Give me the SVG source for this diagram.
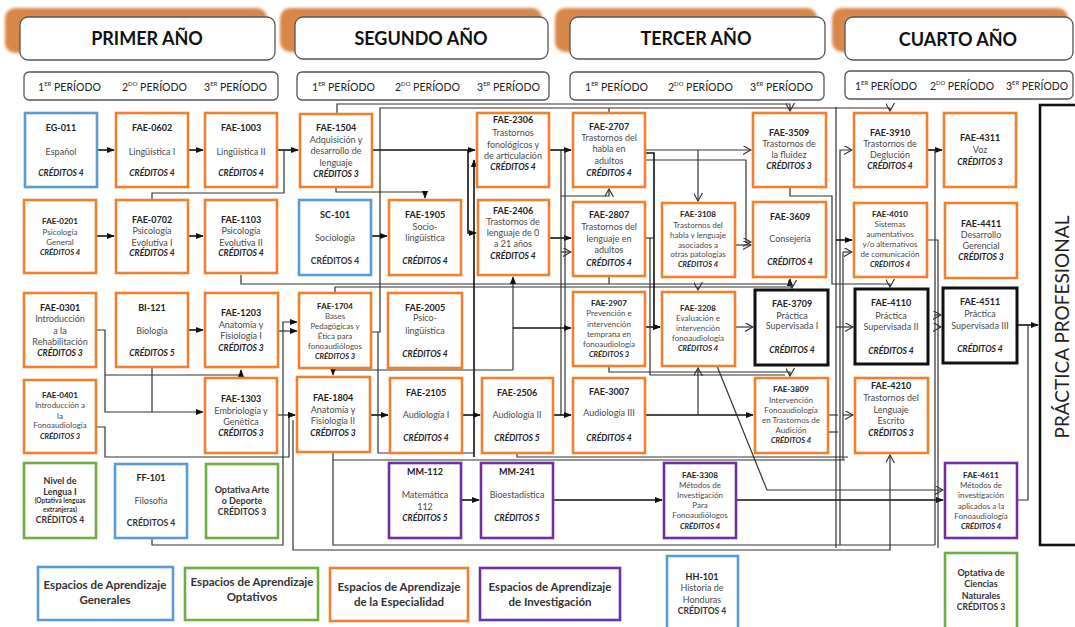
<svg xmlns="http://www.w3.org/2000/svg" width="1075" height="627" viewBox="0 0 1075 627">
<style>
text{font-family:Lato,"Open Sans","Liberation Sans",sans-serif;text-anchor:middle}
.c{font-size:9px;font-weight:bold;fill:#222}
.cs{font-size:8px;font-weight:bold;fill:#222}
.t{font-size:9px;fill:#4a4a4a}
.ts{font-size:8px;fill:#4a4a4a}
.k{font-size:8.5px;font-weight:bold;font-style:italic;fill:#222}
.ks{font-size:7.5px;font-weight:bold;font-style:italic;fill:#222}
.kb{font-size:8.5px;font-weight:bold;fill:#333}
.tb{font-size:9px;font-weight:bold;fill:#333}
.tiny{font-size:6.5px;font-weight:bold;fill:#333}
.o{fill:#fff;stroke:#F07F2E;stroke-width:2.6}
.b{fill:#fff;stroke:#5B9BD5;stroke-width:2.6}
.g{fill:#fff;stroke:#70AD47;stroke-width:2.6}
.p{fill:#fff;stroke:#7030A0;stroke-width:2.6}
.x{fill:#fff;stroke:#111;stroke-width:3}
.hd{fill:#fff;stroke:#555;stroke-width:1.3}
.sh{fill:#D9874A;filter:url(#bl)}
.ht{font-size:18px;font-weight:bold;fill:#111}
.pt{font-size:11.5px;fill:#222;text-anchor:start}
.sup{font-size:6.5px}
.lg{font-size:11.5px;font-weight:bold;fill:#333}
#conn path{fill:none;stroke:#333;stroke-width:1.2}
#conn .s{stroke:#111;stroke-width:1.6}
</style>
<defs>
<filter id="bl" x="-5%" y="-20%" width="110%" height="140%"><feGaussianBlur stdDeviation="1.5"/></filter>
<marker id="af" viewBox="0 0 10 10" refX="9" refY="5" markerWidth="8" markerHeight="8" markerUnits="userSpaceOnUse" orient="auto"><path d="M0,1 L10,5 L0,9 z" fill="#111"/></marker>
<marker id="ao" viewBox="0 0 10 10" refX="9" refY="5" markerWidth="9" markerHeight="9" markerUnits="userSpaceOnUse" orient="auto"><path d="M0,0 L9,5 L0,10" fill="none" stroke="#333" stroke-width="1.3"/></marker>
</defs>
<rect width="1075" height="627" fill="#fff"/>

<!-- Year headers -->
<g id="yr1"><rect class="sh" x="5" y="8" width="262" height="45" rx="10"/><rect class="hd" x="20" y="17" width="255" height="43" rx="8"/><text class="ht" x="147" y="45">PRIMER AÑO</text></g>
<g id="yr2"><rect class="sh" x="280" y="8" width="262" height="44" rx="10"/><rect class="hd" x="295" y="17" width="253" height="42" rx="8"/><text class="ht" x="421" y="45">SEGUNDO AÑO</text></g>
<g id="yr3"><rect class="sh" x="555" y="8" width="262" height="44" rx="10"/><rect class="hd" x="570" y="17" width="255" height="42" rx="8"/><text class="ht" x="696" y="45">TERCER AÑO</text></g>
<g id="yr4"><rect class="sh" x="832" y="8" width="236" height="44" rx="10"/><rect class="hd" x="845" y="17" width="228" height="43" rx="8"/><text class="ht" x="958" y="46">CUARTO AÑO</text></g>

<!-- Period bars -->
<g id="per1"><rect class="hd" x="24" y="72" width="254" height="28" rx="5"/>
<text class="pt" x="38" y="91" textLength="63" lengthAdjust="spacingAndGlyphs">1<tspan class="sup" dy="-5">ER</tspan><tspan dy="5"> PERÍODO</tspan></text>
<text class="pt" x="122" y="91" textLength="65" lengthAdjust="spacingAndGlyphs">2<tspan class="sup" dy="-5">DO</tspan><tspan dy="5"> PERÍODO</tspan></text>
<text class="pt" x="204" y="91" textLength="63" lengthAdjust="spacingAndGlyphs">3<tspan class="sup" dy="-5">ER</tspan><tspan dy="5"> PERÍODO</tspan></text></g>
<g id="per2"><rect class="hd" x="297" y="72" width="252" height="28" rx="5"/>
<text class="pt" x="312" y="91" textLength="63" lengthAdjust="spacingAndGlyphs">1<tspan class="sup" dy="-5">ER</tspan><tspan dy="5"> PERÍODO</tspan></text>
<text class="pt" x="395" y="91" textLength="65" lengthAdjust="spacingAndGlyphs">2<tspan class="sup" dy="-5">DO</tspan><tspan dy="5"> PERÍODO</tspan></text>
<text class="pt" x="477" y="91" textLength="63" lengthAdjust="spacingAndGlyphs">3<tspan class="sup" dy="-5">ER</tspan><tspan dy="5"> PERÍODO</tspan></text></g>
<g id="per3"><rect class="hd" x="570" y="72" width="254" height="28" rx="5"/>
<text class="pt" x="585" y="91" textLength="63" lengthAdjust="spacingAndGlyphs">1<tspan class="sup" dy="-5">ER</tspan><tspan dy="5"> PERÍODO</tspan></text>
<text class="pt" x="668" y="91" textLength="65" lengthAdjust="spacingAndGlyphs">2<tspan class="sup" dy="-5">DO</tspan><tspan dy="5"> PERÍODO</tspan></text>
<text class="pt" x="750" y="91" textLength="63" lengthAdjust="spacingAndGlyphs">3<tspan class="sup" dy="-5">ER</tspan><tspan dy="5"> PERÍODO</tspan></text></g>
<g id="per4"><rect class="hd" x="845" y="71" width="228" height="28" rx="5"/>
<text class="pt" x="855" y="90" textLength="62" lengthAdjust="spacingAndGlyphs">1<tspan class="sup" dy="-5">ER</tspan><tspan dy="5"> PERÍODO</tspan></text>
<text class="pt" x="930" y="90" textLength="64" lengthAdjust="spacingAndGlyphs">2<tspan class="sup" dy="-5">DO</tspan><tspan dy="5"> PERÍODO</tspan></text>
<text class="pt" x="1006" y="90" textLength="62" lengthAdjust="spacingAndGlyphs">3<tspan class="sup" dy="-5">ER</tspan><tspan dy="5"> PERÍODO</tspan></text></g>

<!-- Connectors -->
<g id="conn">
<path class="s" d="M97,150 H114" marker-end="url(#af)"/>
<path class="s" d="M188,150 H203" marker-end="url(#af)"/>
<path class="s" d="M277,150 H298" marker-end="url(#af)"/>
<path d="M152,200 V193 H284 V150"/>
<path class="s" d="M96,236 H114" marker-end="url(#af)"/>
<path class="s" d="M188,236 H203" marker-end="url(#af)"/>
<path class="s" d="M188,330 H203" marker-end="url(#af)"/>
<path d="M241,275 V284 H790 V279" marker-end="url(#af)"/>
<path d="M335,293 V287 H792 V288" marker-end="url(#ao)"/>
<path d="M152,538 V545 H283 V322 H297" marker-end="url(#af)"/>
<path d="M278,331 H297" marker-end="url(#af)"/>
<path d="M96,330 H105 V412 H203" marker-end="url(#af)"/>
<path d="M105,375 H241 V370" marker-end="url(#af)"/>
<path d="M152,368 V412"/>
<path d="M96,427 H105 V457 H289 V415 H295" marker-end="url(#af)"/>
<path d="M277,415 H295" marker-end="url(#af)"/>
<path class="s" d="M372,150 H475" marker-end="url(#af)"/>
<path class="s" d="M468,150 V233 H476" marker-end="url(#af)"/>
<path d="M337,114 V104 H790 V111" marker-end="url(#ao)"/>
<path d="M371,332 H380 V108 H890 V111" marker-end="url(#ao)"/>
<path d="M609,113 V108"/>
<path d="M336,187 V192 H425 V198" marker-end="url(#af)"/>
<path class="s" d="M371,236 H387" marker-end="url(#af)"/>
<path class="s" d="M474,457 V160" marker-end="url(#af)"/>
<path class="s" d="M549,150 H571" marker-end="url(#af)"/>
<path class="s" d="M549,238 H571" marker-end="url(#af)"/>
<path d="M561,150 V415"/>
<path d="M565,150 V413"/>
<path d="M561,252 H571" marker-end="url(#ao)"/>
<path d="M561,196 H609 V189" marker-end="url(#ao)"/>
<path d="M513,370 V277" marker-end="url(#af)"/>
<path class="s" d="M513,328 H571" marker-end="url(#af)"/>
<path d="M513,370 H333 V375" marker-end="url(#af)"/>
<path class="s" d="M552,415 H571" marker-end="url(#af)"/>
<path class="s" d="M369,415 H388" marker-end="url(#af)"/>
<path class="s" d="M462,415 H480" marker-end="url(#af)"/>
<path d="M645,150 H751" marker-end="url(#ao)"/>
<path d="M698,150 V201" marker-end="url(#ao)"/>
<path d="M645,160 H746 V242 H751" marker-end="url(#ao)"/>
<path class="s" d="M645,153 H654 V327 H660" marker-end="url(#af)"/>
<path d="M645,238 H654"/>
<path class="s" d="M645,327 H660" marker-end="url(#af)"/>
<path d="M735,245 H751" marker-end="url(#ao)"/>
<path d="M735,327 H753" marker-end="url(#ao)"/>
<path d="M698,287 V290" marker-end="url(#ao)"/>
<path d="M609,276 V284"/>
<path d="M609,366 V372 H790 V376" marker-end="url(#ao)"/>
<path d="M650,238 V375 H785"/>
<path class="s" d="M645,415 H753" marker-end="url(#af)"/>
<path d="M698,415 V368" marker-end="url(#ao)"/>
<path d="M717,366 L767,490 H943" marker-end="url(#ao)"/>
<path class="s" d="M736,500 H943" marker-end="url(#af)"/>
<path class="s" d="M552,500 H662" marker-end="url(#af)"/>
<path class="s" d="M461,500 H479" marker-end="url(#af)"/>
<path class="s" d="M927,150 H942" marker-end="url(#af)"/>
<path d="M790,187 V196 H832 V284 H890 V287" marker-end="url(#ao)"/>
<path d="M840,545 V150 H852" marker-end="url(#ao)"/>
<path d="M836,107 V548"/>
<path class="s" d="M836,240 H852" marker-end="url(#af)"/>
<path d="M843,252 H852" marker-end="url(#ao)"/>
<path d="M843,252 V460"/>
<path d="M836,327 H853" marker-end="url(#ao)"/>
<path d="M828,415 H838"/>
<path d="M828,432 H838"/>
<path d="M843,415 H853" marker-end="url(#ao)"/>
<path d="M927,150 H935 V545"/>
<path d="M927,240 H938 V548"/>
<path d="M333,452 V545 H935"/>
<path d="M935,315 H941" marker-end="url(#ao)"/>
<path d="M938,327 H941" marker-end="url(#ao)"/>
<path d="M293,420 V550 H890 V455" marker-end="url(#ao)"/>
<path d="M378,332 V453 H474"/>
<path d="M517,453 V457 H848"/>
<path d="M333,460 H845"/>
<path class="s" d="M1017,325 H1038" marker-end="url(#af)"/>
<path d="M1017,500 H1028 V325"/>
</g>

<!-- Nodes -->
<g id="EG-011"><rect class="b" x="25" y="113" width="72" height="74"/><text class="c" x="61" y="131">EG-011</text><text class="t" x="61" y="155">Español</text><text class="k" x="61" y="176">CRÉDITOS 4</text></g>
<g id="FAE-0602"><rect class="o" x="116" y="113" width="72" height="74"/><text class="c" x="152" y="131">FAE-0602</text><text class="t" x="152" y="155">Lingüística I</text><text class="k" x="152" y="176">CRÉDITOS 4</text></g>
<g id="FAE-1003"><rect class="o" x="205" y="113" width="72" height="74"/><text class="c" x="241" y="131">FAE-1003</text><text class="t" x="241" y="155">Lingüística II</text><text class="k" x="241" y="176">CRÉDITOS 4</text></g>
<g id="FAE-1504"><rect class="o" x="300" y="114" width="72" height="73"/><text class="c" x="336" y="131">FAE-1504</text><text class="t" x="336" y="142.5">Adquisición y</text><text class="t" x="336" y="154">desarrollo de</text><text class="t" x="336" y="165.5">lenguaje</text><text class="k" x="336" y="177">CRÉDITOS 3</text></g>
<g id="FAE-2306"><rect class="o" x="477" y="113" width="72" height="74"/><text class="c" x="513" y="123">FAE-2306</text><text class="t" x="513" y="136">Trastornos</text><text class="t" x="513" y="148">fonológicos y</text><text class="t" x="513" y="159">de articulación</text><text class="k" x="513" y="170">CRÉDITOS 4</text></g>
<g id="FAE-2707"><rect class="o" x="573" y="113" width="72" height="74"/><text class="c" x="609" y="130">FAE-2707</text><text class="t" x="609" y="141">Trastornos del</text><text class="t" x="609" y="152">habla en</text><text class="t" x="609" y="164">adultos</text><text class="k" x="609" y="176">CRÉDITOS 4</text></g>
<g id="FAE-3509"><rect class="o" x="753" y="113" width="73" height="74"/><text class="c" x="789" y="136">FAE-3509</text><text class="t" x="789" y="147">Trastornos de</text><text class="t" x="789" y="158">la fluidez</text><text class="k" x="789" y="169">CRÉDITOS 3</text></g>
<g id="FAE-3910"><rect class="o" x="854" y="113" width="73" height="74"/><text class="c" x="890" y="136">FAE-3910</text><text class="t" x="890" y="147">Trastornos de</text><text class="t" x="890" y="158">Deglución</text><text class="k" x="890" y="169">CRÉDITOS 4</text></g>
<g id="FAE-4311"><rect class="o" x="944" y="113" width="72" height="74"/><text class="c" x="980" y="141">FAE-4311</text><text class="t" x="980" y="153">Voz</text><text class="k" x="980" y="165">CRÉDITOS 3</text></g>

<g id="FAE-0201"><rect class="o" x="24" y="200" width="72" height="73"/><text class="cs" x="60" y="224">FAE-0201</text><text class="ts" x="60" y="234.5">Psicología</text><text class="ts" x="60" y="244.5">General</text><text class="ks" x="60" y="254.5">CRÉDITOS 4</text></g>
<g id="FAE-0702"><rect class="o" x="116" y="200" width="72" height="73"/><text class="c" x="152" y="223">FAE-0702</text><text class="t" x="152" y="234">Psicología</text><text class="t" x="152" y="245.5">Evolutiva I</text><text class="k" x="152" y="256">CRÉDITOS 4</text></g>
<g id="FAE-1103"><rect class="o" x="205" y="200" width="72" height="73"/><text class="c" x="241" y="223">FAE-1103</text><text class="t" x="241" y="234">Psicología</text><text class="t" x="241" y="245.5">Evolutiva II</text><text class="k" x="241" y="256">CRÉDITOS 4</text></g>
<g id="SC-101"><rect class="b" x="299" y="200" width="72" height="75"/><text class="c" x="335" y="218">SC-101</text><text class="t" x="335" y="241">Sociología</text><text class="kb" x="335" y="264">CRÉDITOS 4</text></g>
<g id="FAE-1905"><rect class="o" x="389" y="200" width="72" height="75"/><text class="c" x="425" y="218">FAE-1905</text><text class="t" x="425" y="230">Socio-</text><text class="t" x="425" y="241">lingüística</text><text class="k" x="425" y="264">CRÉDITOS 4</text></g>
<g id="FAE-2406"><rect class="o" x="478" y="200" width="71" height="75"/><text class="c" x="513" y="213.5">FAE-2406</text><text class="t" x="513" y="224.5">Trastornos de</text><text class="t" x="513" y="236">lenguaje de 0</text><text class="t" x="513" y="247">a 21 años</text><text class="k" x="513" y="258.5">CRÉDITOS 4</text></g>
<g id="FAE-2807"><rect class="o" x="573" y="202" width="72" height="74"/><text class="c" x="609" y="218">FAE-2807</text><text class="t" x="609" y="230">Trastornos del</text><text class="t" x="609" y="242">lenguaje en</text><text class="t" x="609" y="253">adultos</text><text class="k" x="609" y="265.5">CRÉDITOS 4</text></g>
<g id="FAE-3108"><rect class="o" x="662" y="203" width="73" height="74"/><text class="cs" x="698" y="217">FAE-3108</text><text class="ts" x="698" y="227.5">Trastornos del</text><text class="ts" x="698" y="237.5">habla y  lenguaje</text><text class="ts" x="698" y="247.5">asociados a</text><text class="ts" x="698" y="257">otras patologías</text><text class="ks" x="698" y="267">CRÉDITOS 4</text></g>
<g id="FAE-3609"><rect class="o" x="753" y="202" width="73" height="75"/><text class="c" x="790" y="219.5">FAE-3609</text><text class="t" x="790" y="242">Consejería</text><text class="k" x="790" y="264.5">CRÉDITOS 4</text></g>
<g id="FAE-4010"><rect class="o" x="854" y="203" width="73" height="74"/><text class="cs" x="890" y="216.5">FAE-4010</text><text class="ts" x="890" y="226.5">Sistemas</text><text class="ts" x="890" y="236.5">aumentativos</text><text class="ts" x="890" y="246.5">y/o alternativos</text><text class="ts" x="890" y="256.5">de comunicación</text><text class="ks" x="890" y="267">CRÉDITOS 4</text></g>
<g id="FAE-4411"><rect class="o" x="945" y="203" width="72" height="75"/><text class="c" x="981" y="226.5">FAE-4411</text><text class="t" x="981" y="237.5">Desarrollo</text><text class="t" x="981" y="249">Gerencial</text><text class="k" x="981" y="260">CRÉDITOS 3</text></g>

<g id="FAE-0301"><rect class="o" x="24" y="293" width="72" height="74"/><text class="c" x="60" y="311">FAE-0301</text><text class="t" x="60" y="322">Introducción</text><text class="t" x="60" y="334">a la</text><text class="t" x="60" y="345">Rehabilitación</text><text class="k" x="60" y="356">CRÉDITOS 3</text></g>
<g id="BI-121"><rect class="o" x="116" y="293" width="72" height="74"/><text class="c" x="152" y="311">BI-121</text><text class="t" x="152" y="334">Biología</text><text class="k" x="152" y="356">CRÉDITOS 5</text></g>
<g id="FAE-1203"><rect class="o" x="205" y="293" width="73" height="74"/><text class="c" x="241" y="316">FAE-1203</text><text class="t" x="241" y="328">Anatomía y</text><text class="t" x="241" y="339">Fisiología I</text><text class="k" x="241" y="350.5">CRÉDITOS 3</text></g>
<g id="FAE-1704"><rect class="o" x="299" y="293" width="72" height="75"/><text class="cs" x="335" y="308.5">FAE-1704</text><text class="ts" x="335" y="318.5">Bases</text><text class="ts" x="335" y="329">Pedagógicas y</text><text class="ts" x="335" y="338.5">Ética para</text><text class="ts" x="335" y="348.5">fonoaudiólogos</text><text class="ks" x="335" y="358.5">CRÉDITOS 3</text></g>
<g id="FAE-2005"><rect class="o" x="388" y="293" width="74" height="75"/><text class="c" x="425" y="311">FAE-2005</text><text class="t" x="425" y="321">Psico-</text><text class="t" x="425" y="334">lingüística</text><text class="k" x="425" y="357">CRÉDITOS 4</text></g>
<g id="FAE-2907"><rect class="o" x="573" y="292" width="72" height="74"/><text class="cs" x="609" y="305.5">FAE-2907</text><text class="ts" x="609" y="315.5">Prevención e</text><text class="ts" x="609" y="326.5">intervención</text><text class="ts" x="609" y="336.5">temprana en</text><text class="ts" x="609" y="346.5">fonoaudiología</text><text class="ks" x="609" y="356.5">CRÉDITOS 3</text></g>
<g id="FAE-3208"><rect class="o" x="662" y="292" width="73" height="74"/><text class="cs" x="698" y="310.5">FAE-3208</text><text class="ts" x="698" y="320.5">Evaluación e</text><text class="ts" x="698" y="330.5">intervención</text><text class="ts" x="698" y="340.5">fonoaudiología</text><text class="ks" x="698" y="351">CRÉDITOS 4</text></g>
<g id="FAE-3709"><rect class="x" x="755" y="290" width="73" height="75"/><text class="c" x="792" y="307">FAE-3709</text><text class="t" x="792" y="318.5">Práctica</text><text class="t" x="792" y="329">Supervisada I</text><text class="k" x="792" y="352.5">CRÉDITOS 4</text></g>
<g id="FAE-4110"><rect class="x" x="855" y="289" width="73" height="75"/><text class="c" x="891" y="306">FAE-4110</text><text class="t" x="891" y="318.5">Práctica</text><text class="t" x="891" y="329.5">Supervisada II</text><text class="k" x="891" y="353.5">CRÉDITOS 4</text></g>
<g id="FAE-4511"><rect class="x" x="943" y="288" width="74" height="75"/><text class="c" x="980" y="305">FAE-4511</text><text class="t" x="980" y="317">Práctica</text><text class="t" x="980" y="328.5">Supervisada III</text><text class="k" x="980" y="351.5">CRÉDITOS 4</text></g>

<g id="FAE-0401"><rect class="o" x="24" y="380" width="72" height="73"/><text class="cs" x="60" y="397.5">FAE-0401</text><text class="ts" x="60" y="407.5">Introducción  a</text><text class="ts" x="60" y="418.5">la</text><text class="ts" x="60" y="427.5">Fonoaudiología</text><text class="ks" x="60" y="438.5">CRÉDITOS 3</text></g>
<g id="FAE-1303"><rect class="o" x="205" y="378" width="72" height="75"/><text class="c" x="241" y="402">FAE-1303</text><text class="t" x="241" y="413.5">Embriología y</text><text class="t" x="241" y="425">Genética</text><text class="k" x="241" y="436">CRÉDITOS 3</text></g>
<g id="FAE-1804"><rect class="o" x="297" y="377" width="73" height="75"/><text class="c" x="333" y="401">FAE-1804</text><text class="t" x="333" y="413">Anatomía y</text><text class="t" x="333" y="424">Fisiología  II</text><text class="k" x="333" y="435.5">CRÉDITOS 3</text></g>
<g id="FAE-2105"><rect class="o" x="390" y="378" width="72" height="75"/><text class="c" x="426" y="395.5">FAE-2105</text><text class="t" x="426" y="418">Audiología I</text><text class="k" x="426" y="440.5">CRÉDITOS 4</text></g>
<g id="FAE-2506"><rect class="o" x="482" y="378" width="71" height="75"/><text class="c" x="517" y="395.5">FAE-2506</text><text class="t" x="517" y="418">Audiología II</text><text class="k" x="517" y="440.5">CRÉDITOS 5</text></g>
<g id="FAE-3007"><rect class="o" x="573" y="378" width="72" height="75"/><text class="c" x="609" y="394.5">FAE-3007</text><text class="t" x="609" y="416">Audiología III</text><text class="k" x="609" y="440.5">CRÉDITOS 4</text></g>
<g id="FAE-3809"><rect class="o" x="755" y="378" width="73" height="75"/><text class="cs" x="791" y="391.5">FAE-3809</text><text class="ts" x="791" y="402.5">Intervención</text><text class="ts" x="791" y="412.5">Fonoaudiología</text><text class="ts" x="791" y="422.5">en Trastornos de</text><text class="ts" x="791" y="432.5">Audición</text><text class="ks" x="791" y="442.5">CRÉDITOS 4</text></g>
<g id="FAE-4210"><rect class="o" x="855" y="378" width="73" height="75"/><text class="c" x="891" y="388.5">FAE-4210</text><text class="t" x="891" y="400.5">Trastornos del</text><text class="t" x="891" y="412.5">Lenguaje</text><text class="t" x="891" y="423.5">Escrito</text><text class="k" x="891" y="435.5">CRÉDITOS 3</text></g>

<g id="NIVEL-LENGUA"><rect class="g" x="24" y="463" width="72" height="75"/><text class="tb" x="60" y="483.5">Nivel de</text><text class="tb" x="60" y="494.5">Lengua I</text><text class="tiny" x="60" y="503">(Optativa lenguas</text><text class="tiny" x="60" y="511.5">extranjeras)</text><text class="kb" x="60" y="523">CRÉDITOS 4</text></g>
<g id="FF-101"><rect class="b" x="115" y="464" width="72" height="74"/><text class="c" x="151" y="481">FF-101</text><text class="t" x="151" y="503.5">Filosofía</text><text class="kb" x="151" y="526">CRÉDITOS 4</text></g>
<g id="OPT-ARTE"><rect class="g" x="206" y="464" width="72" height="74"/><text class="tb" x="242" y="493">Optativa Arte</text><text class="tb" x="242" y="504">o Deporte</text><text class="kb" x="242" y="515">CRÉDITOS 3</text></g>
<g id="MM-112"><rect class="p" x="389" y="463" width="72" height="75"/><text class="c" x="425" y="474.5">MM-112</text><text class="t" x="425" y="497.5">Matemática</text><text class="t" x="425" y="509.5">112</text><text class="k" x="425" y="520.5">CRÉDITOS 5</text></g>
<g id="MM-241"><rect class="p" x="481" y="463" width="72" height="75"/><text class="c" x="517" y="474.5">MM-241</text><text class="t" x="517" y="497.5">Bioestadística</text><text class="k" x="517" y="520.5">CRÉDITOS 5</text></g>
<g id="FAE-3308"><rect class="p" x="664" y="463" width="72" height="75"/><text class="cs" x="700" y="477.5">FAE-3308</text><text class="ts" x="700" y="487.5">Métodos de</text><text class="ts" x="700" y="497.5">Investigación</text><text class="ts" x="700" y="508">Para</text><text class="ts" x="700" y="518">Fonoaudiólogos</text><text class="ks" x="700" y="528.5">CRÉDITOS 4</text></g>
<g id="FAE-4611"><rect class="p" x="945" y="463" width="72" height="75"/><text class="cs" x="981" y="477.5">FAE-4611</text><text class="ts" x="981" y="487.5">Métodos de</text><text class="ts" x="981" y="497.5">investigación</text><text class="ts" x="981" y="508.5">aplicados a la</text><text class="ts" x="981" y="518.5">Fonoaudiología</text><text class="ks" x="981" y="528.5">CRÉDITOS 4</text></g>
<g id="HH-101"><rect class="b" x="667" y="556" width="71" height="74"/><text class="c" x="702" y="579.5">HH-101</text><text class="t" x="702" y="590.5">Historia de</text><text class="t" x="702" y="602.5">Honduras</text><text class="kb" x="702" y="613.5">CRÉDITOS 4</text></g>
<g id="OPT-CIENCIAS"><rect class="g" x="945" y="553" width="72" height="76"/><text class="tb" x="981" y="576">Optativa de</text><text class="tb" x="981" y="587">Ciencias</text><text class="tb" x="981" y="598.5">Naturales</text><text class="kb" x="981" y="609.5">CRÉDITOS 3</text></g>

<g id="PRACTICA-PROFESIONAL"><rect fill="#fff" stroke="#111" stroke-width="2.6" x="1040" y="105" width="40" height="440"/><text transform="translate(1069,327) rotate(-90)" style="font-size:19px;fill:#222">PRÁCTICA PROFESIONAL</text></g>

<!-- Legend -->
<g id="LEG-GEN"><rect class="b" x="38" y="567" width="135" height="53"/><text class="lg" x="105" y="589">Espacios de Aprendizaje</text><text class="lg" x="105" y="604">Generales</text></g>
<g id="LEG-OPT"><rect class="g" x="185" y="568" width="133" height="52"/><text class="lg" x="252" y="585.5">Espacios de Aprendizaje</text><text class="lg" x="252" y="600.5">Optativos</text></g>
<g id="LEG-ESP"><rect class="o" x="330" y="568" width="138" height="53"/><text class="lg" x="399" y="590.5">Espacios de Aprendizaje</text><text class="lg" x="399" y="605.5">de la Especialidad</text></g>
<g id="LEG-INV"><rect class="p" x="480" y="568" width="140" height="52"/><text class="lg" x="550" y="590.5">Espacios de Aprendizaje</text><text class="lg" x="550" y="605.5">de Investigación</text></g>
</svg>
